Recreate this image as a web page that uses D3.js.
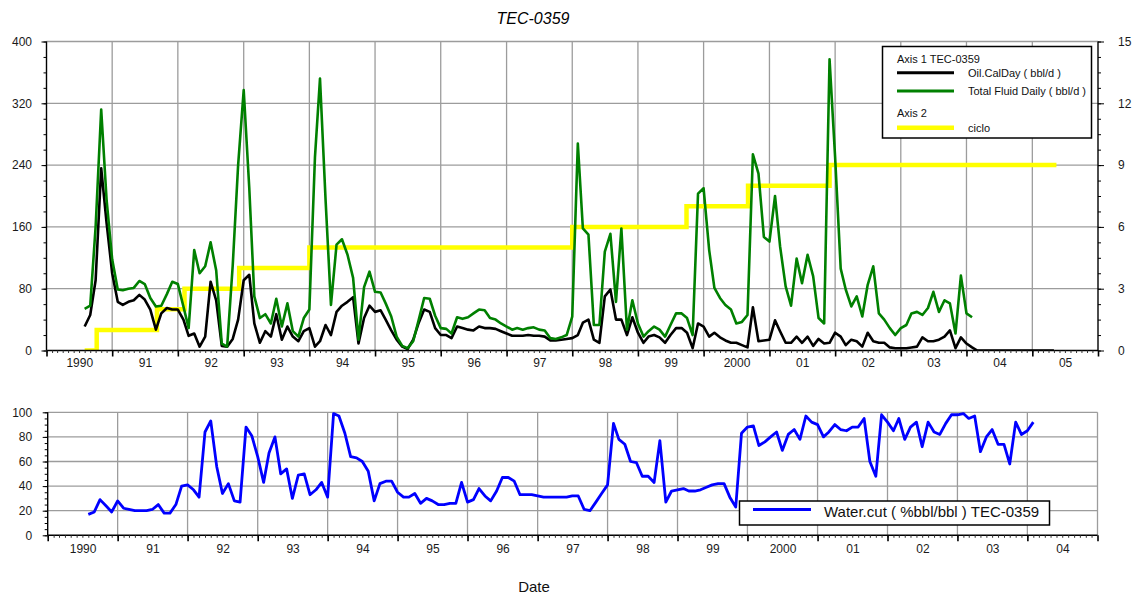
<!DOCTYPE html>
<html>
<head>
<meta charset="utf-8">
<script src="https://cdn.jsdelivr.net/npm/d3@7"></script>
<style>
  html, body { margin: 0; padding: 0; background: #fff; }
  svg { display: block; font-family: "Liberation Sans", Arial, sans-serif; }
  .tick text { fill: #1a1a1a; }
</style>
</head>
<body>
<script>
// ---- Well TEC-0359 monthly production, Aug 1990 onward ----
const firstMonth = "1990-08-01";

// Total Fluid Daily (bbl/d), axis 1
const fluidDaily = [
  54, 58, 160, 312, 195, 118, 79, 78, 80, 81, 90, 86, 68, 57, 58, 73, 89, 86, 57, 29,
  130, 100, 109, 140, 104, 9, 5, 110, 240, 337, 210, 70, 42, 47, 35, 67, 31, 61, 25, 18,
  42, 53, 250, 352, 195, 59, 137, 144, 124, 94, 14, 82, 102, 76, 75, 61, 44, 18, 6, 3,
  12, 40, 68, 67, 45, 29, 28, 22, 43, 41, 43, 48, 53, 52, 42, 40, 35, 31, 27, 29,
  27, 29, 30, 27, 26, 16, 15, 17, 20, 44, 268, 158, 150, 33, 33, 128, 151, 63, 158, 27,
  65, 35, 18, 25, 31, 27, 18, 33, 48, 48, 42, 20, 203, 210, 130, 81, 68, 59, 53, 35,
  37, 46, 254, 229, 147, 141, 200, 135, 83, 58, 119, 87, 124, 96, 42, 35, 377, 250, 106, 79,
  57, 70, 44, 85, 109, 48, 40, 29, 20, 29, 33, 48, 50, 46, 55, 76, 50, 65, 61, 22,
  97, 48, 43
];

// Oil.CalDay (bbl/d), axis 1
const oilCalDay = [
  31, 46, 91, 236, 165, 100, 63, 59, 63, 65, 72, 66, 53, 27, 48, 55, 53, 53, 40, 19,
  22, 5, 18, 89, 65, 6, 5, 15, 40, 91, 98, 35, 10, 25, 18, 47, 14, 31, 18, 12,
  25, 29, 5, 12, 33, 20, 50, 58, 63, 69, 9, 42, 58, 50, 52, 40, 26, 14, 5, 2,
  14, 36, 53, 50, 29, 20, 20, 16, 31, 29, 27, 26, 31, 29, 29, 28, 25, 22, 19, 19,
  19, 20, 19, 19, 18, 13, 13, 14, 15, 16, 20, 36, 40, 14, 10, 70, 79, 40, 40, 20,
  43, 23, 10, 18, 20, 17, 10, 20, 29, 29, 23, 3, 35, 31, 18, 23, 17, 13, 10, 10,
  7, 4, 56, 12, 13, 14, 39, 25, 10, 10, 18, 10, 18, 6, 15, 9, 10, 23, 18, 7,
  14, 12, 5, 23, 12, 10, 10, 4, 3, 3, 3, 4, 5, 17, 12, 12, 14, 18, 26, 3,
  17, 9, 4, 0, 0, 0, 0, 0, 0, 0, 0, 0, 0, 0, 0, 0, 0, 0
];

// Water.cut (%bbl/bbl)
const waterCut = [
  17, 19, 29, 24, 19, 28, 22, 21, 20, 20, 20, 21, 25, 18, 18, 25, 40, 41, 37, 31,
  84, 93, 56, 34, 42, 28, 27, 88, 81, 64, 43, 67, 80, 50, 54, 30, 49, 50, 33, 37,
  43, 31, 99, 97, 83, 64, 63, 60, 52, 28, 42, 44, 44, 35, 31, 31, 34, 26, 30, 28,
  25, 25, 26, 26, 43, 27, 29, 38, 32, 28, 36, 47, 47, 44, 33, 33, 33, 32, 31, 31,
  31, 31, 31, 32, 32, 21, 20, 27, 34, 41, 91, 78, 74, 60, 59, 48, 48, 43, 77, 27,
  36, 37, 38, 36, 36, 37, 39, 41, 42, 42, 31, 23, 83, 88, 89, 73, 76, 80, 84, 69,
  82, 86, 78, 97, 92, 90, 80, 84, 90, 86, 85, 88, 88, 95, 60, 48, 98, 92, 85, 95,
  78, 88, 92, 72, 92, 84, 82, 91, 98, 98, 99, 95, 97, 68, 80, 86, 74, 74, 58, 92,
  82, 85, 92
];

// ciclo (axis 2): stepped well-cycle counter
const cicloDates  = ["1990-08-01", "1990-10-07", "1991-09-07", "1992-02-07", "1992-12-07",
                     "1994-01-01", "1998-01-01", "1999-09-28", "2000-09-04", "2001-12-01", "2005-05-15"];
const cicloValues = [0, 1, 2, 3, 4, 5, 6, 7, 8, 9, 9];

// axis tick labels
const leftTicks   = [0, 80, 160, 240, 320, 400];
const rightTicks  = [0, 3, 6, 9, 12, 15];
const cutTicks    = [0, 20, 40, 60, 80, 100];
const topYears    = ["1990", "91", "92", "93", "94", "95", "96", "97", "98", "99", "2000", "01", "02", "03", "04", "05"];
const bottomYears = ["1990", "91", "92", "93", "94", "95", "96", "97", "98", "99", "2000", "01", "02", "03", "04"];

// ---------------------------------------------------------------
const W = 1140, H = 596;
const FONT = '"Liberation Sans", Arial, sans-serif';
const parse = d3.utcParse("%Y-%m-%d");
const start = parse(firstMonth);
const monthDate = i => d3.utcMonth.offset(start, i);

const svg = d3.select("body").append("svg").attr("width", W).attr("height", H);

const GRID = "#9c9c9c";

function stripDomain(g) { g.select(".domain").remove(); }

// Year ticks / monthly minor ticks / year labels along a time scale
function timeAxis(g, x, yBase, years, labelY) {
  const yearStarts = years.map((_, i) => new Date(Date.UTC(1990 + i, 0, 1)));
  yearStarts.push(new Date(Date.UTC(1990 + years.length, 0, 1)));
  const months = d3.utcMonth.range(yearStarts[0], yearStarts[yearStarts.length - 1]);

  g.append("g").attr("transform", `translate(0,${yBase})`)
    .call(d3.axisBottom(x).tickValues(months).tickSize(2.5).tickFormat(""))
    .call(stripDomain)
    .selectAll("line").attr("stroke", "#333").attr("stroke-width", 1);

  g.append("g").attr("transform", `translate(0,${yBase})`)
    .call(d3.axisBottom(x).tickValues(yearStarts).tickSize(6).tickFormat(""))
    .call(stripDomain)
    .selectAll("line").attr("stroke", "#000").attr("stroke-width", 1.6);

  const mids = years.map((_, i) => new Date(Date.UTC(1990 + i, 6, 2)));
  const lab = g.append("g").attr("transform", `translate(0,${labelY})`)
    .call(d3.axisBottom(x).tickValues(mids).tickSize(0).tickPadding(0)
      .tickFormat((d, i) => years[i]))
    .call(stripDomain);
  lab.selectAll("text").attr("font-size", 12).attr("font-family", FONT).attr("dy", 0);
}

// ================= Top panel =================
const T = { l: 46.5, r: 1098, t: 41.5, b: 350.5 };
const xTop = d3.scaleUtc()
  .domain([new Date(Date.UTC(1990, 0, 1)), new Date(Date.UTC(2006, 0, 1))])
  .range([T.l, T.r]);
const yL = d3.scaleLinear().domain([0, 400]).range([T.b, T.t]);
const yR = d3.scaleLinear().domain([0, 15]).range([T.b, T.t]);

const topG = svg.append("g");

// grid
topG.append("g").selectAll("line").data(leftTicks.slice(1)).join("line")
  .attr("x1", T.l).attr("x2", T.r).attr("y1", d => yL(d)).attr("y2", d => yL(d))
  .attr("stroke", GRID).attr("stroke-width", 1.3);
topG.append("g").selectAll("line").data(d3.range(1991, 2006)).join("line")
  .attr("x1", d => xTop(new Date(Date.UTC(d, 0, 1)))).attr("x2", d => xTop(new Date(Date.UTC(d, 0, 1))))
  .attr("y1", T.t).attr("y2", T.b)
  .attr("stroke", GRID).attr("stroke-width", 1.3);

svg.append("clipPath").attr("id", "clipTop").append("rect")
  .attr("x", T.l).attr("y", T.t - 2).attr("width", T.r - T.l).attr("height", T.b - T.t + 2);

const plotTop = topG.append("g").attr("clip-path", "url(#clipTop)");

// ciclo on axis 2
const cicloData = cicloDates.map((d, i) => ({ date: parse(d), v: cicloValues[i] }));
plotTop.append("path").datum(cicloData)
  .attr("fill", "none").attr("stroke", "#ffff00").attr("stroke-width", 4.5)
  .attr("d", d3.line().curve(d3.curveStepAfter).x(d => xTop(d.date)).y(d => yR(d.v)));

const lineTop = d3.line().x((d, i) => xTop(monthDate(i))).y(d => yL(d));
plotTop.append("path").datum(oilCalDay)
  .attr("fill", "none").attr("stroke", "#000").attr("stroke-width", 2.6)
  .attr("stroke-linejoin", "round").attr("d", lineTop);
plotTop.append("path").datum(fluidDaily)
  .attr("fill", "none").attr("stroke", "#008000").attr("stroke-width", 2.6)
  .attr("stroke-linejoin", "round").attr("d", lineTop);

// frame
topG.append("line").attr("x1", T.l).attr("x2", T.l).attr("y1", T.t).attr("y2", T.b).attr("stroke", "#000").attr("stroke-width", 1.4);
topG.append("line").attr("x1", T.r).attr("x2", T.r).attr("y1", T.t).attr("y2", T.b).attr("stroke", "#000").attr("stroke-width", 1.4);
topG.append("line").attr("x1", T.l).attr("x2", T.r).attr("y1", T.b).attr("y2", T.b).attr("stroke", "#000").attr("stroke-width", 1.4);

// left axis
topG.append("g").attr("transform", `translate(${T.l},0)`)
  .call(d3.axisLeft(yL).tickValues(d3.range(0, 401, 20)).tickSize(3).tickFormat(""))
  .call(stripDomain);
topG.append("g").attr("transform", `translate(${T.l},0)`)
  .call(d3.axisLeft(yL).tickValues(leftTicks).tickSize(5).tickPadding(9.5))
  .call(stripDomain)
  .call(g => g.selectAll("text").attr("font-size", 12).attr("font-family", FONT));

// right axis
topG.append("g").attr("transform", `translate(${T.r},0)`)
  .call(d3.axisRight(yR).tickValues(d3.range(0, 15.01, 0.75)).tickSize(3).tickFormat(""))
  .call(stripDomain);
topG.append("g").attr("transform", `translate(${T.r},0)`)
  .call(d3.axisRight(yR).tickValues(rightTicks).tickSize(6).tickPadding(14))
  .call(stripDomain)
  .call(g => g.selectAll("text").attr("font-size", 12).attr("font-family", FONT));

timeAxis(topG, xTop, T.b, topYears, 367);

// title
svg.append("text").attr("x", 533).attr("y", 24).attr("text-anchor", "middle")
  .attr("font-family", FONT).attr("font-size", 16).attr("font-style", "italic")
  .text("TEC-0359");

// legend (top panel)
const lg = svg.append("g");
lg.append("rect").attr("x", 882.5).attr("y", 46.5).attr("width", 209).attr("height", 91.5)
  .attr("fill", "#fff").attr("stroke", "#000").attr("stroke-width", 1.5);
const legendRows = [
  { kind: "head", text: "Axis 1  TEC-0359", y: 63 },
  { kind: "line", text: "Oil.CalDay ( bbl/d )", color: "#000", w: 3, y: 72.7 },
  { kind: "line", text: "Total Fluid Daily ( bbl/d )", color: "#008000", w: 3, y: 91 },
  { kind: "head", text: "Axis 2", y: 117 },
  { kind: "line", text: "ciclo", color: "#ffff00", w: 4.5, y: 127.7 }
];
legendRows.forEach(r => {
  if (r.kind === "head") {
    lg.append("text").attr("x", 897).attr("y", r.y).attr("font-family", FONT).attr("font-size", 11)
      .attr("fill", "#111").text(r.text);
  } else {
    lg.append("line").attr("x1", 897).attr("x2", 954).attr("y1", r.y).attr("y2", r.y)
      .attr("stroke", r.color).attr("stroke-width", r.w);
    lg.append("text").attr("x", 968).attr("y", r.y + 4).attr("font-family", FONT).attr("font-size", 11)
      .attr("fill", "#111").text(r.text);
  }
});

// ================= Bottom panel =================
const B = { l: 47.7, r: 1097.5, t: 412.3, b: 535.3 };
const xBot = d3.scaleUtc()
  .domain([new Date(Date.UTC(1990, 0, 1)), new Date(Date.UTC(2005, 0, 1))])
  .range([B.l, B.r]);
const yW = d3.scaleLinear().domain([0, 100]).range([B.b, B.t]);

const botG = svg.append("g");
botG.append("g").selectAll("line").data(cutTicks.slice(1)).join("line")
  .attr("x1", B.l).attr("x2", B.r).attr("y1", d => yW(d)).attr("y2", d => yW(d))
  .attr("stroke", GRID).attr("stroke-width", 1.3);
botG.append("g").selectAll("line").data(d3.range(1991, 2006)).join("line")
  .attr("x1", d => xBot(new Date(Date.UTC(d, 0, 1)))).attr("x2", d => xBot(new Date(Date.UTC(d, 0, 1))))
  .attr("y1", B.t).attr("y2", B.b)
  .attr("stroke", GRID).attr("stroke-width", 1.3);

svg.append("clipPath").attr("id", "clipBot").append("rect")
  .attr("x", B.l).attr("y", B.t - 2).attr("width", B.r - B.l).attr("height", B.b - B.t + 2);

botG.append("g").attr("clip-path", "url(#clipBot)")
  .append("path").datum(waterCut)
  .attr("fill", "none").attr("stroke", "#0000ff").attr("stroke-width", 2.8)
  .attr("stroke-linejoin", "round")
  .attr("d", d3.line().x((d, i) => xBot(monthDate(i))).y(d => yW(d)));

botG.append("line").attr("x1", B.l).attr("x2", B.l).attr("y1", B.t).attr("y2", B.b).attr("stroke", "#000").attr("stroke-width", 1.4);
botG.append("line").attr("x1", B.l).attr("x2", B.r).attr("y1", B.b).attr("y2", B.b).attr("stroke", "#000").attr("stroke-width", 1.4);

botG.append("g").attr("transform", `translate(${B.l},0)`)
  .call(d3.axisLeft(yW).tickValues(d3.range(0, 101, 5)).tickSize(3).tickFormat(""))
  .call(stripDomain);
botG.append("g").attr("transform", `translate(${B.l},0)`)
  .call(d3.axisLeft(yW).tickValues(cutTicks).tickSize(5).tickPadding(10.5))
  .call(stripDomain)
  .call(g => g.selectAll("text").attr("font-size", 12).attr("font-family", FONT));

timeAxis(botG, xBot, B.b, bottomYears, 553);

// bottom legend
const lg2 = svg.append("g");
lg2.append("rect").attr("x", 739.5).attr("y", 501).attr("width", 310).attr("height", 24)
  .attr("fill", "#fff").attr("stroke", "#000").attr("stroke-width", 1.5);
lg2.append("line").attr("x1", 753).attr("x2", 811).attr("y1", 509.5).attr("y2", 509.5)
  .attr("stroke", "#0000ff").attr("stroke-width", 3);
lg2.append("text").attr("x", 824).attr("y", 516.5).attr("font-family", FONT).attr("font-size", 15)
  .attr("fill", "#111").text("Water.cut ( %bbl/bbl ) TEC-0359");

// x title
svg.append("text").attr("x", 534).attr("y", 592).attr("text-anchor", "middle")
  .attr("font-family", FONT).attr("font-size", 15).attr("fill", "#111").text("Date");
</script>
</body>
</html>
